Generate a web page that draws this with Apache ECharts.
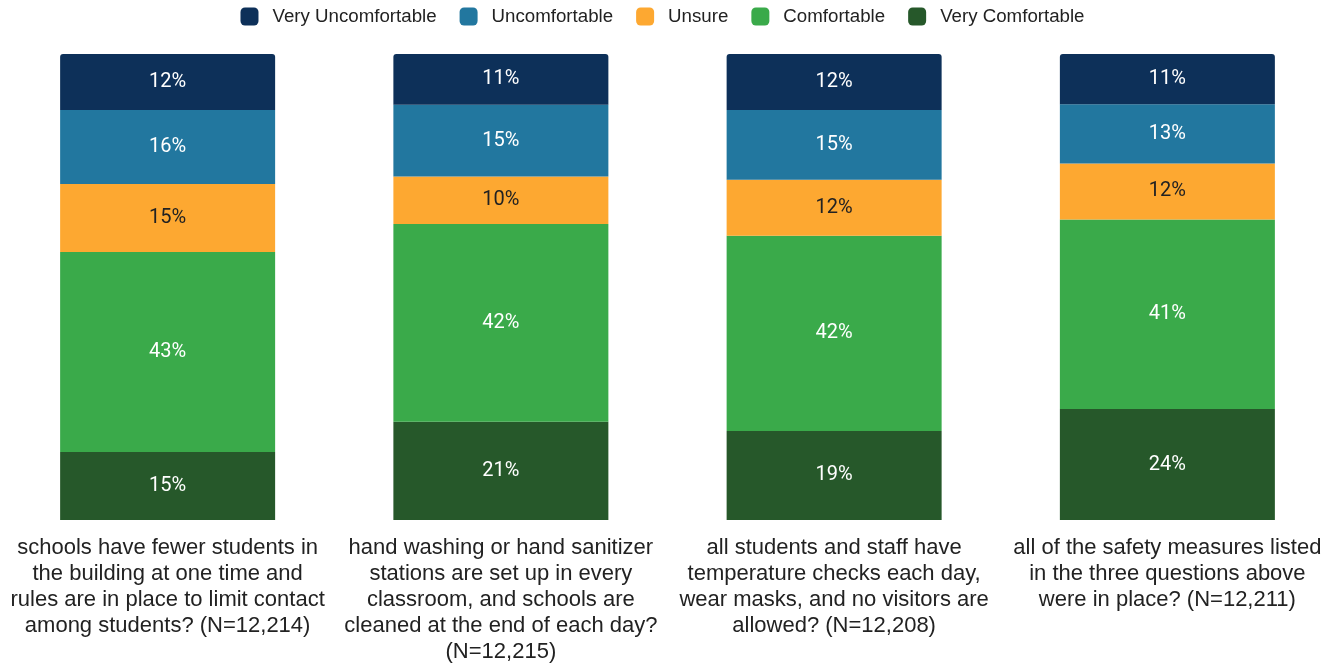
<!DOCTYPE html>
<html><head><meta charset="utf-8">
<script src="https://cdn.jsdelivr.net/npm/echarts@6/dist/echarts.min.js"></script>
<style>html,body{margin:0;padding:0;background:#fff}#c{width:1325px;height:663px}</style>
</head><body><div id="c"></div>
<script>
const categories = [
  "schools have fewer students in\nthe building at one time and\nrules are in place to limit contact\namong students? (N=12,214)",
  "hand washing or hand sanitizer\nstations are set up in every\nclassroom, and schools are\ncleaned at the end of each day?\n(N=12,215)",
  "all students and staff have\ntemperature checks each day,\nwear masks, and no visitors are\nallowed? (N=12,208)",
  "all of the safety measures listed\nin the three questions above\nwere in place? (N=12,211)"
];
const veryComfortable = [14.6, 21.1, 19.1, 23.8];
const comfortable = [42.9, 42.4, 41.9, 40.7];
const unsure = [14.6, 10.2, 12.0, 12.0];
const uncomfortable = [15.9, 15.4, 15.0, 12.7];
const veryUncomfortable = [12.0, 10.9, 12.0, 10.8];

const mk = (name, data, color, textColor, radius) => ({
  name, type: 'bar', stack: 'total', data, barWidth: 215,
  itemStyle: { color, borderRadius: radius },
  label: { show: true, position: 'inside', color: textColor, fontFamily: 'Roboto', fontSize: 20,
    formatter: p => Math.round(p.value) + '%' },
  emphasis: { disabled: true }
});

const chart = echarts.init(document.getElementById('c'));
chart.setOption({
  animation: false,
  legend: {
    top: 2, left: 'center', itemWidth: 18, itemHeight: 18, itemGap: 23,
    icon: 'roundRect',
    textStyle: { fontFamily: 'Liberation Sans', fontSize: 18.7, color: '#222', padding: [0,0,0,9] },
    data: ['Very Uncomfortable', 'Uncomfortable', 'Unsure', 'Comfortable', 'Very Comfortable']
  },
  grid: { left: 1, width: 1333, top: 54, height: 466, outerBoundsMode: 'none', containLabel: false },
  xAxis: {
    type: 'category', data: categories,
    axisLine: { show: false }, axisTick: { show: false },
    axisLabel: { interval: 0, margin: 15, fontFamily: 'Liberation Sans', fontSize: 22, lineHeight: 26, color: '#222', align: 'center' }
  },
  yAxis: { type: 'value', min: 0, max: 100, show: false, splitLine: { show: false } },
  series: [
    mk('Very Comfortable', veryComfortable, '#26582a', '#fff', 0),
    mk('Comfortable', comfortable, '#3aaa4a', '#fff', 0),
    mk('Unsure', unsure, '#fda831', '#222', 0),
    mk('Uncomfortable', uncomfortable, '#22779f', '#fff', 0),
    mk('Very Uncomfortable', veryUncomfortable, '#0d3059', '#fff', [3,3,0,0])
  ]
});
</script></body></html>
